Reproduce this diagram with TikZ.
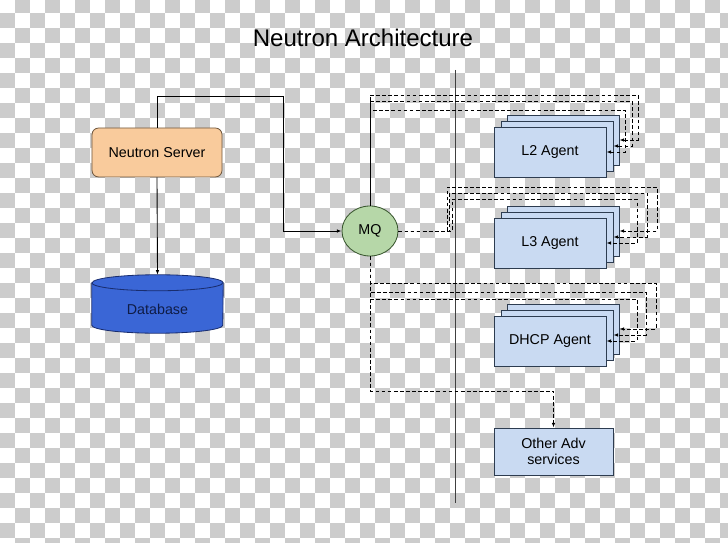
\documentclass[tikz,border=0pt]{standalone}
\usepackage{fontspec}
\setmainfont{Liberation Sans}
\usetikzlibrary{arrows.meta,shapes.geometric}
\definecolor{checkgray}{RGB}{204,204,204}
\definecolor{serverorange}{RGB}{249,203,156}
\definecolor{serverline}{RGB}{110,85,60}
\definecolor{dbblue}{RGB}{58,102,214}
\definecolor{dbline}{RGB}{25,45,110}
\definecolor{dbtext}{RGB}{15,28,70}
\definecolor{mqgreen}{RGB}{182,215,168}
\definecolor{mqline}{RGB}{55,85,45}
\definecolor{agentblue}{RGB}{201,218,242}
\definecolor{agentline}{RGB}{45,60,80}

\begin{document}
\begin{tikzpicture}[x=0.03cm, y=-0.03cm,
  srvbox/.style={rectangle, rounded corners=0.2cm, draw=serverline, fill=serverorange, line width=0.7pt, minimum width=3.9cm, minimum height=1.47cm, font=\fontsize{12.2}{14}\selectfont},
  dbnode/.style={rectangle, minimum width=3.93cm, minimum height=1.74cm, inner sep=0pt, text=dbtext, font=\fontsize{12.2}{14}\selectfont},
  mqnode/.style={ellipse, draw=mqline, fill=mqgreen, line width=0.7pt, minimum width=1.68cm, minimum height=1.5cm, inner sep=0pt, font=\fontsize{12.2}{14}\selectfont},
  agent/.style={rectangle, draw=agentline, fill=agentblue, line width=0.7pt, minimum width=3.36cm, minimum height=1.5cm, align=center, font=\fontsize{12.2}{14}\selectfont},
  otherbox/.style={agent, minimum width=3.57cm, minimum height=1.41cm},
  link/.style={line width=0.75pt, -{Latex[length=4pt,width=3pt]}},
  dlink/.style={link, dash pattern=on 3.2pt off 2pt}
]
\useasboundingbox (0,0) rectangle (728,543);
\begin{scope}
\clip (0,0) rectangle (728,543);
\foreach \i in {0,...,48}{
  \foreach \j in {0,...,36}{
    \pgfmathtruncatemacro\k{mod(\i+\j,2)}
    \ifnum\k=1 \fill[checkgray] (15*\i,15*\j-2) rectangle ++(15,15); \fi
  }
}
\end{scope}

\node[font=\fontsize{20.5}{24}\selectfont] (title) at (363,38) {Neutron Architecture};

\coordinate (divtop) at (455,70);
\coordinate (divbot) at (455,503);
\draw[line width=0.8pt, black!75] (divtop) -- (divbot);

\node[srvbox] (srv) at (157,152.5) {Neutron Server};
\node[dbnode] (db) at (157.5,304) {};
\filldraw[draw=dbline, fill=dbblue, line width=0.7pt]
  ([yshift=-0.24cm]db.north west) -- ([yshift=0.24cm]db.south west)
  arc[start angle=180, end angle=360, x radius=1.965cm, y radius=0.24cm]
  -- ([yshift=-0.24cm]db.north east)
  arc[start angle=0, end angle=180, x radius=1.965cm, y radius=0.24cm] -- cycle;
\draw[dbline, line width=0.7pt] ([yshift=-0.24cm]db.north west)
  arc[start angle=180, end angle=360, x radius=1.965cm, y radius=0.24cm];
\node[text=dbtext, font=\fontsize{12.2}{14}\selectfont] at ([yshift=-0.16cm]db.center) {Database};

\node[mqnode] (mq) at (370,231) {MQ};

\foreach \nm/\y in {l2/152, l3/243, dhcp/341}{
  \node[agent] (\nm back) at (563,\y-12) {};
  \node[agent] (\nm mid) at (557,\y-6) {};
}
\node[agent] (l2front) at (550,152) {L2 Agent};
\node[agent] (l3front) at (550,243) {L3 Agent};
\node[agent] (dhcpfront) at (550,341) {DHCP Agent};
\node[otherbox] (other) at (553.5,451.5) {Other Adv\\services};

\draw[link] (srv.north) |- (283,96) |- (mq.west);
\draw[link] (srv.south) -- (db.north);

\draw[line width=0.75pt] (mq.north) -- (370,101);
\draw[dlink] (370,101) -- (370,95) -- (638,95) |- (l2back.east);
\draw[dlink] (370,101) -- (632,101) |- (l2mid.east);
\draw[dlink] (370,101) -- (370,110) -- (625,110) |- (l2front.east);

\draw[dlink] (mq.east) -- (447,231) -- (447,187) -- (657,187) |- (l3back.east);
\draw[dlink] (mq.east) -- (449.5,231) -- (449.5,193) -- (647,193) |- (l3mid.east);
\draw[dlink] (mq.east) -- (452,231) -- (452,199) -- (637,199) |- (l3front.east);

\draw[dlink] (mq.south) -- (370,283) -- (656,283) |- (dhcpback.east);
\draw[dlink] (mq.south) -- (370,292) -- (646,292) |- (dhcpmid.east);
\draw[dlink] (mq.south) -- (370,299) -- (637,299) |- (dhcpfront.east);
\draw[dlink] (mq.south) -- (370,391) -| (other.north);
\end{tikzpicture}
\end{document}
